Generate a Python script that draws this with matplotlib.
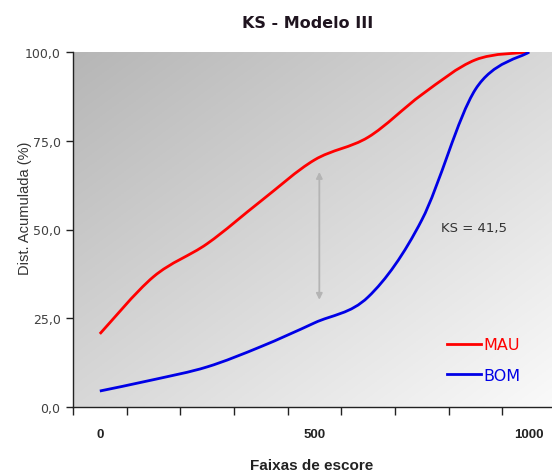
import numpy as np
import matplotlib
matplotlib.use("Agg")
import matplotlib.pyplot as plt
from matplotlib.path import Path
from matplotlib.patches import PathPatch

# score bands (categories) and cumulative distributions (%)
faixas = [0, 125, 250, 375, 500, 625, 750, 875, 1000]
mau = [20.6, 36.7, 46.0, 58.0, 69.6, 76.0, 88.0, 97.8, 100.0]
bom = [4.5, 7.7, 11.3, 17.0, 23.7, 31.0, 52.7, 89.5, 100.0]
tick_labels = ["0", "", "", "", "500", "", "", "", "1000"]
ks_value = "41,5"
ks_arrow = (4.09, 66.2, 30.2)   # category pos, top, bottom

RED = "#ff0000"
BLUE = "#0000e6"


def smooth_path(xs, ys):
    # excel-like smoothed line: cubic bezier through the points
    pts = np.column_stack([xs, ys]).astype(float)
    n = len(pts)
    verts = [pts[0]]
    codes = [Path.MOVETO]
    for i in range(n - 1):
        p0 = pts[i - 1] if i > 0 else pts[i]
        p1 = pts[i]
        p2 = pts[i + 1]
        p3 = pts[i + 2] if i + 2 < n else pts[i + 1]
        c1 = p1 + (p2 - p0) / 6.0
        c2 = p2 - (p3 - p1) / 6.0
        verts += [c1, c2, p2]
        codes += [Path.CURVE4] * 3
    return Path(verts, codes)


fig = plt.figure(figsize=(5.52, 4.77), dpi=100)
ax = fig.add_axes([73 / 552, 1 - 408 / 477, 483 / 552, 355 / 477])

# grey diagonal gradient background
gx, gy = np.meshgrid(np.linspace(0, 1, 200), np.linspace(1, 0, 200))
t = (gx + (1 - gy)) / 2
shade = (182 + (250 - 182) * t) / 255.0
ax.imshow(np.dstack([shade, shade, shade]), extent=[0, 1, 0, 1],
          transform=ax.transAxes, aspect="auto", zorder=0)

xpos = np.arange(len(faixas))
ax.add_patch(PathPatch(smooth_path(xpos, mau), fill=False, edgecolor=RED,
                       lw=2.0, zorder=3))
ax.add_patch(PathPatch(smooth_path(xpos, bom), fill=False, edgecolor=BLUE,
                       lw=2.0, zorder=3))
# invisible lines for the legend
ax.plot([], [], color=RED, lw=2.0, label="MAU")
ax.plot([], [], color=BLUE, lw=2.0, label="BOM")

ax.annotate("", xy=(ks_arrow[0], ks_arrow[2]), xytext=(ks_arrow[0], ks_arrow[1]),
            arrowprops=dict(arrowstyle="<|-|>", color="#b4b4b4", lw=1.3,
                            mutation_scale=9, shrinkA=0, shrinkB=0), zorder=2)
ax.text(6.36, 50.6, "KS = " + ks_value, fontsize=9.5, color="#333333",
        va="center", ha="left")

ax.set_xlim(-0.5, len(faixas) - 0.5)
ax.set_ylim(0, 100)

ax.set_xticks(np.arange(len(faixas) + 1) - 0.5)
ax.set_xticklabels([])
ax.set_xticks(xpos, minor=True)
ax.set_xticklabels(tick_labels, minor=True, fontsize=9.5, fontweight="bold",
                   family="Liberation Sans", color="#222222")
ax.tick_params(axis="x", which="major", direction="out", length=6, width=1,
               color="#222222")
ax.tick_params(axis="x", which="minor", length=0, pad=15)

yt = [0, 25, 50, 75, 100]
ax.set_yticks(yt)
ax.set_yticklabels([("%.1f" % v).replace(".", ",") for v in yt])
ax.tick_params(axis="y", direction="out", length=5, width=1, color="#222222",
               pad=4, labelcolor="#404040", labelsize=9)

for s in ["top", "right"]:
    ax.spines[s].set_visible(False)
for s in ["left", "bottom"]:
    ax.spines[s].set_color("#222222")
    ax.spines[s].set_linewidth(1.0)

leg = ax.legend(loc="center left", bbox_to_anchor=((447 - 73) / 483, 47 / 355),
                frameon=False, handlelength=2.15, handletextpad=0.15,
                labelspacing=0.95, borderpad=0, borderaxespad=0,
                prop=dict(size=11.5), labelcolor="linecolor")

fig.text(308 / 552, 1 - 23 / 477, "KS - Modelo III", fontsize=11.5,
         fontweight="bold", color="#1f141f", ha="center", va="center")
fig.text(312 / 552, 1 - 466 / 477, "Faixas de escore", fontsize=11,
         fontweight="bold", family="Liberation Sans", color="#222222",
         ha="center", va="center")
fig.text(25 / 552, 1 - 208 / 477, "Dist. Acumulada (%)", fontsize=10.5,
         family="Liberation Sans", color="#333333", rotation=90,
         ha="center", va="center")

fig.savefig("out.png", dpi=100, facecolor="white")
